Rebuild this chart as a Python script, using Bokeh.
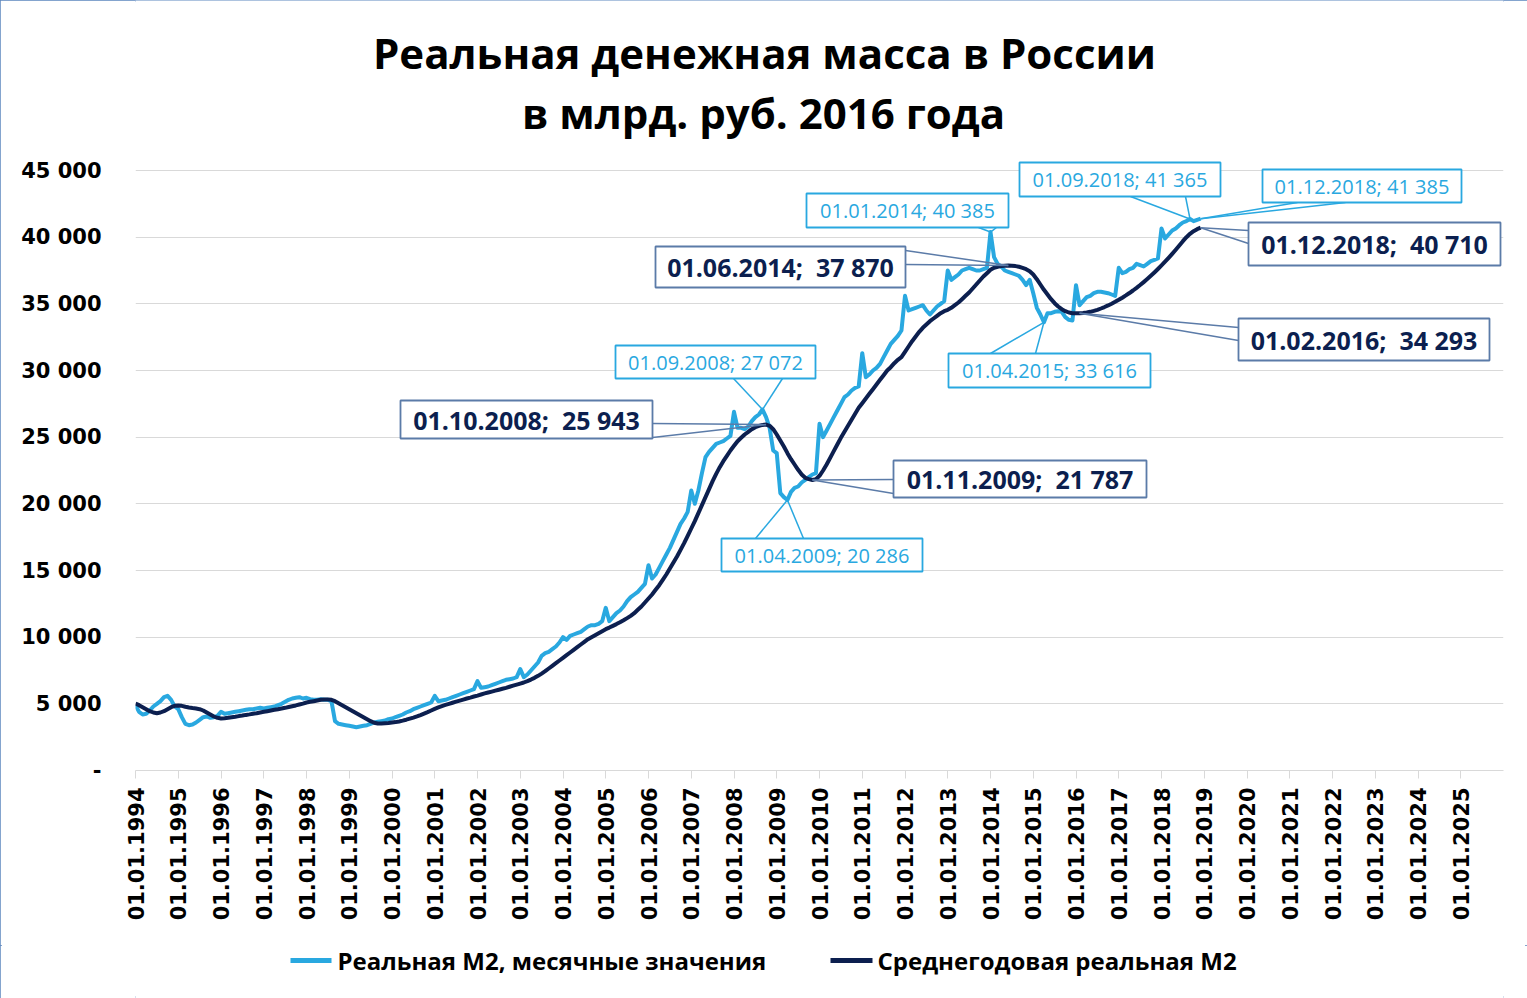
import math
from bokeh.plotting import figure
from bokeh.layouts import column
from bokeh.models import Range1d, FixedTicker
from bokeh.core.properties import value
from bokeh.embed import file_html
from bokeh.resources import INLINE

# ---------------- data ----------------
years = list(range(1994, 2019))

# Real M2, monthly values (bn rub. of 2016), one row per year, Jan..Dec
real_m2_monthly = [
    [4900, 4400, 4200, 4250, 4500, 4800, 5000, 5200, 5500, 5600, 5300, 4800],
    [4600, 4000, 3500, 3400, 3450, 3600, 3800, 4000, 4050, 3950, 4000, 4100],
    [4400, 4250, 4300, 4350, 4400, 4450, 4500, 4550, 4600, 4600, 4650, 4700],
    [4650, 4700, 4750, 4800, 4900, 5000, 5150, 5300, 5400, 5450, 5500, 5400],
    [5450, 5350, 5300, 5300, 5350, 5300, 5300, 5200, 3700, 3500, 3450, 3400],
    [3350, 3300, 3250, 3300, 3350, 3400, 3500, 3600, 3650, 3700, 3750, 3850],
    [3900, 4000, 4100, 4200, 4350, 4450, 4600, 4700, 4800, 4900, 5000, 5100],
    [5600, 5200, 5250, 5300, 5400, 5500, 5600, 5700, 5800, 5900, 6000, 6100],
    [6700, 6200, 6250, 6300, 6400, 6500, 6600, 6700, 6800, 6850, 6900, 7000],
    [7600, 7000, 7200, 7500, 7800, 8100, 8600, 8800, 8900, 9100, 9300, 9600],
    [10000, 9800, 10100, 10200, 10300, 10400, 10600, 10800, 10900, 10900, 11000, 11200],
    [12200, 11200, 11500, 11800, 12000, 12300, 12700, 13000, 13200, 13400, 13700, 14000],
    [15400, 14400, 14700, 15200, 15700, 16200, 16700, 17300, 17900, 18500, 18900, 19400],
    [21000, 20000, 21000, 22300, 23500, 23900, 24200, 24500, 24600, 24700, 24900, 25100],
    [26900, 25700, 25700, 25600, 25800, 26200, 26500, 26700, 27072, 26500, 25700, 24000],
    [23800, 20800, 20500, 20286, 20900, 21200, 21300, 21600, 21800, 22000, 22200, 22300],
    [26000, 25000, 25500, 26000, 26500, 27000, 27500, 28000, 28200, 28500, 28700, 28800],
    [31300, 29500, 29700, 30000, 30200, 30500, 31000, 31500, 32000, 32300, 32600, 33000],
    [35600, 34500, 34600, 34700, 34800, 34900, 34500, 34200, 34500, 34800, 35000, 35200],
    [37500, 36800, 37000, 37200, 37500, 37600, 37700, 37600, 37500, 37500, 37600, 37700],
    [40385, 38500, 38000, 37800, 37500, 37400, 37300, 37200, 37100, 36800, 36400, 36800],
    [35800, 34700, 34200, 33616, 34300, 34300, 34400, 34450, 34400, 34000, 33800, 33750],
    [36400, 34900, 35200, 35500, 35600, 35800, 35900, 35900, 35850, 35800, 35700, 35600],
    [37700, 37300, 37400, 37600, 37700, 38000, 37900, 37800, 38000, 38200, 38300, 38400],
    [40650, 39900, 40200, 40500, 40650, 40900, 41100, 41200, 41365, 41200, 41300, 41385],
]

real_m2_annual_avg = [
    [5025, 4900, 4750, 4600, 4450, 4350, 4300, 4350, 4450, 4600, 4750, 4850],
    [4875, 4850, 4780, 4720, 4680, 4650, 4600, 4500, 4350, 4200, 4050, 3950],
    [3900, 3920, 3950, 3990, 4030, 4080, 4120, 4170, 4210, 4260, 4300, 4350],
    [4400, 4450, 4500, 4550, 4600, 4650, 4700, 4760, 4820, 4880, 4950, 5020],
    [5100, 5150, 5200, 5250, 5300, 5330, 5330, 5300, 5200, 5050, 4900, 4750],
    [4600, 4450, 4300, 4150, 4000, 3850, 3700, 3580, 3525, 3530, 3550, 3570],
    [3600, 3630, 3680, 3740, 3810, 3890, 3970, 4060, 4160, 4270, 4380, 4500],
    [4620, 4730, 4830, 4920, 5000, 5080, 5160, 5240, 5320, 5400, 5470, 5550],
    [5620, 5700, 5780, 5850, 5920, 5990, 6060, 6130, 6200, 6280, 6360, 6440],
    [6520, 6600, 6700, 6820, 6950, 7100, 7270, 7450, 7650, 7850, 8050, 8250],
    [8450, 8650, 8850, 9050, 9250, 9450, 9650, 9850, 10000, 10150, 10300, 10450],
    [10600, 10720, 10850, 10980, 11120, 11270, 11430, 11600, 11800, 12050, 12300, 12600],
    [12900, 13200, 13550, 13900, 14300, 14700, 15150, 15600, 16050, 16550, 17050, 17600],
    [18150, 18700, 19300, 19900, 20500, 21100, 21700, 22250, 22750, 23200, 23600, 24000],
    [24350, 24700, 24950, 25200, 25400, 25600, 25750, 25850, 25920, 25943, 25850, 25600],
    [25200, 24750, 24300, 23800, 23350, 22950, 22550, 22200, 21950, 21850, 21787, 21850],
    [22100, 22500, 22950, 23450, 23950, 24450, 24950, 25400, 25850, 26300, 26750, 27200],
    [27550, 27900, 28250, 28600, 28950, 29300, 29650, 30000, 30250, 30550, 30800, 31000],
    [31400, 31800, 32200, 32550, 32900, 33200, 33450, 33700, 33900, 34100, 34300, 34450],
    [34550, 34700, 34900, 35100, 35350, 35600, 35850, 36150, 36450, 36750, 37050, 37300],
    [37550, 37700, 37780, 37830, 37860, 37870, 37860, 37830, 37780, 37700, 37600, 37450],
    [37200, 36850, 36450, 36050, 35700, 35350, 35050, 34800, 34600, 34450, 34350, 34300],
    [34300, 34293, 34310, 34350, 34400, 34470, 34550, 34650, 34760, 34880, 35010, 35150],
    [35300, 35460, 35630, 35810, 36000, 36200, 36410, 36630, 36860, 37100, 37350, 37610],
    [37880, 38160, 38450, 38750, 39060, 39380, 39700, 40000, 40250, 40450, 40600, 40710],
]

x_tick_years = list(range(1994, 2026))
x_tick_labels = ["01.01.%d" % y for y in x_tick_years]
y_ticks = [0, 5000, 10000, 15000, 20000, 25000, 30000, 35000, 40000, 45000]
y_tick_labels = ["-", "5 000", "10 000", "15 000", "20 000", "25 000",
                 "30 000", "35 000", "40 000", "45 000"]
title_lines = ["Реальная денежная масса в России", "в млрд. руб. 2016 года"]
legend_labels = ["Реальная М2, месячные значения", "Среднегодовая реальная М2"]

# callouts: (series, year, month(1-12))
callout_points = [
    ("m", 2008, 9), ("a", 2008, 10), ("m", 2009, 4), ("a", 2009, 11),
    ("m", 2014, 1), ("a", 2014, 6), ("m", 2018, 9), ("m", 2018, 12),
    ("a", 2018, 12), ("m", 2015, 4), ("a", 2016, 2),
]

# ---------------- layout / style ----------------
LIGHT = "#29A8E0"
DARK = "#0C1F4F"
DARK_BOX = "#5B7BA8"
GRID = "#D9D9D9"

# callout box geometry in page pixels: (cx, cy, w, h, attach points)
callout_boxes = [
    (715, 361.5, 200, 33, [(733, 378), (782, 378)]),
    (526, 419, 252, 38, [(652, 423), (652, 437)]),
    (821.5, 554.5, 201, 33, [(755, 538), (803, 538)]),
    (1019.5, 478.5, 253, 37, [(893, 479), (893, 493)]),
    (907, 210, 202, 34, [(978, 227), (996, 227)]),
    (780, 266.5, 250, 41, [(905, 250), (905, 264)]),
    (1119.5, 179, 201, 34, [(1130, 196), (1185, 196)]),
    (1361.5, 185.5, 199, 33, [(1297, 202), (1345, 202)]),
    (1374, 243.5, 252, 43, [(1248, 230), (1248, 243)]),
    (1049, 370, 202, 34, [(990, 353), (1035, 353)]),
    (1363.5, 339, 251, 42, [(1238, 327), (1238, 340)]),
]
title_pos = [(764, 52), (763, 112)]
# legend entries (page pixels): line x0, line x1, text x, y
legend_pos = [(290, 331, 337, 960), (830, 872, 877, 960)]

W, H = 1527, 998
MAIN_H = 945
FRAME_L, FRAME_T, FRAME_W, FRAME_H = 135, 0, 1368, 770   # page pixels
PX_PER_YEAR = 42.75
UNITS_PER_PX = 75.0
X0 = 1994
X1 = X0 + FRAME_W / PX_PER_YEAR
Y0 = 0
Y1 = FRAME_H * UNITS_PER_PX


def to_data(px, py):
    return (X0 + (px - FRAME_L) / PX_PER_YEAR,
            Y1 - (py - FRAME_T) * UNITS_PER_PX)


dates = [y + m / 12 for y in years for m in range(12)]
monthly = [v for row in real_m2_monthly for v in row]
annual = [v for row in real_m2_annual_avg for v in row]

p = figure(frame_width=FRAME_W, frame_height=FRAME_H,
           min_border_left=FRAME_L, min_border_right=W - FRAME_L - FRAME_W,
           min_border_top=0, min_border_bottom=MAIN_H - FRAME_H,
           x_range=Range1d(X0, X1), y_range=Range1d(Y0, Y1),
           output_backend="svg", toolbar_location=None,
           background_fill_color="white", border_fill_color="white")
p.outline_line_color = None

# axes
p.xaxis.ticker = FixedTicker(ticks=x_tick_years)
p.xaxis.major_label_overrides = dict(zip(x_tick_years, x_tick_labels))
p.xaxis.major_label_orientation = math.pi / 2
p.xaxis.axis_line_color = GRID
p.xaxis.major_tick_line_color = GRID
p.xaxis.major_tick_out = 8
p.xaxis.major_tick_in = 0
p.xaxis.minor_tick_line_color = None
p.xaxis.major_label_standoff = 9
p.xaxis.major_label_text_font = "DejaVu Sans"
p.xaxis.major_label_text_font_style = "bold"
p.xaxis.major_label_text_font_size = "21px"
p.xaxis.major_label_text_color = "black"

p.yaxis.ticker = FixedTicker(ticks=y_ticks)
p.yaxis.major_label_overrides = dict(zip(y_ticks, y_tick_labels))
p.yaxis.axis_line_color = None
p.yaxis.major_tick_line_color = None
p.yaxis.minor_tick_line_color = None
p.yaxis.major_tick_out = 0
p.yaxis.major_label_standoff = 34
p.yaxis.major_label_text_font = "DejaVu Sans"
p.yaxis.major_label_text_font_style = "bold"
p.yaxis.major_label_text_font_size = "21px"
p.yaxis.major_label_text_color = "black"

p.xgrid.grid_line_color = None
p.ygrid.grid_line_color = GRID
p.ygrid.grid_line_width = 1

# series
p.line(dates, monthly, line_color=LIGHT, line_width=4, line_join="round")
p.line(dates, annual, line_color=DARK, line_width=4, line_join="round")

# callouts
for (series, yr, mo), (cx, cy, w, h, attach) in zip(callout_points, callout_boxes):
    idx = (yr - years[0]) * 12 + (mo - 1)
    xv = dates[idx]
    vals = monthly if series == "m" else annual
    yv = vals[idx]
    num = "{:,}".format(yv).replace(",", " ")
    if series == "m":
        txt = "01.%02d.%d; %s" % (mo, yr, num)
        col, bcol, lcol, fs, fst = LIGHT, LIGHT, LIGHT, "20px", "normal"
    else:
        txt = "01.%02d.%d;\u00a0 %s" % (mo, yr, num)
        col, bcol, lcol, fs, fst = DARK, DARK_BOX, DARK_BOX, "25px", "bold"
    for ax, ay in attach:
        dx, dy = to_data(ax, ay)
        p.segment(x0=[dx], y0=[dy], x1=[xv], y1=[yv], line_color=lcol, line_width=1.5)
    bx, by = to_data(cx, cy)
    p.rect(x=[bx], y=[by], width=[w], height=[h], width_units="screen",
           height_units="screen", fill_color="white", line_color=bcol, line_width=1.8)
    p.text(x=[bx], y=[by], text=[txt], text_align="center", text_baseline="middle",
           text_font=value("Open Sans"), text_font_style=fst, text_font_size=fs,
           text_color=col)

# title
for line, (tx, ty) in zip(title_lines, title_pos):
    dx, dy = to_data(tx, ty)
    p.text(x=[dx], y=[dy], text=[line], text_align="center", text_baseline="middle",
           text_font=value("Open Sans"), text_font_style="bold",
           text_font_size="42px", text_color="black")

# legend strip (separate small figure below the chart; its frame is aligned with
# the main frame by the column layout, so its x range is given in page pixels)
LEG_H = H - MAIN_H
pl = figure(width=W, height=LEG_H,
            x_range=Range1d(FRAME_L, FRAME_L + FRAME_W), y_range=Range1d(H, MAIN_H),
            x_axis_type=None, y_axis_type=None, min_border=0,
            output_backend="svg", toolbar_location=None,
            background_fill_color="white", border_fill_color="white")
pl.outline_line_color = None
pl.grid.visible = False
for label, colr, (lx0, lx1, tx, ty) in zip(legend_labels, [LIGHT, DARK], legend_pos):
    pl.segment(x0=[lx0], y0=[ty], x1=[lx1], y1=[ty], line_color=colr, line_width=5)
    pl.text(x=[tx], y=[ty], text=[label], text_align="left", text_baseline="middle",
            text_font=value("Open Sans"), text_font_style="bold",
            text_font_size="24px", text_color="black")

layout = column(p, pl, spacing=0)
layout.styles = {"outline": "2px solid #5B86BE", "outline-offset": "-2px"}

open("out.html", "w").write(file_html(layout, INLINE))
